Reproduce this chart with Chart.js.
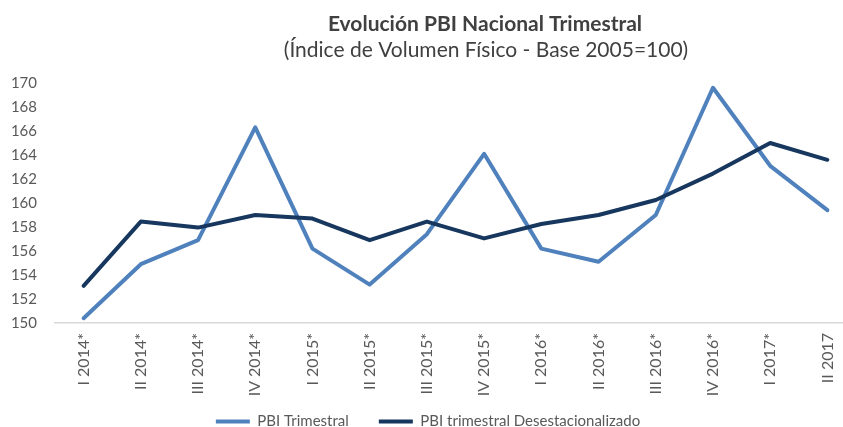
<!DOCTYPE html>
<html>
<head>
<meta charset="utf-8">
<script src="https://cdn.jsdelivr.net/npm/chart.js@4/dist/chart.umd.min.js"></script>
<style>
  html, body { margin: 0; padding: 0; background: #ffffff; overflow: hidden; width: 843px; height: 427px; }
  #wrap { width: 858px; height: 439px; }
</style>
</head>
<body>
<div id="wrap"><canvas id="c" width="858" height="439"></canvas></div>
<script>
const categories = ["I 2014*", "II 2014*", "III 2014*", "IV 2014*", "I 2015*", "II 2015*", "III 2015*", "IV 2015*", "I 2016*", "II 2016*", "III 2016*", "IV 2016*", "I 2017*", "II 2017"];
const pbiTrimestral = [150.4, 154.9, 156.9, 166.3, 156.2, 153.2, 157.4, 164.1, 156.2, 155.1, 159.0, 169.6, 163.1, 159.4];
const pbiDesestacionalizado = [153.1, 158.45, 157.95, 159.0, 158.7, 156.9, 158.45, 157.05, 158.25, 159.0, 160.25, 162.45, 165.0, 163.6];
const yTicks = [150, 152, 154, 156, 158, 160, 162, 164, 166, 168, 170];
const titleText = "Evolución PBI Nacional Trimestral";
const subtitleText = "(Índice de Volumen Físico - Base 2005=100)";

const FONT = "Lato, 'Open Sans', sans-serif";

const titlePlugin = {
  id: 'customTitle',
  afterUpdate(chart) {
    // let rotated category labels extend below the axis box (as in the reference)
    const xs = chart.scales.x;
    if (xs) xs._computeLabelArea = function () { return undefined; };
  },
  afterDraw(chart) {
    const ctx = chart.ctx;
    ctx.save();
    ctx.textAlign = 'center';
    ctx.textBaseline = 'alphabetic';
    ctx.fillStyle = '#404040';
    ctx.font = "bold 21px " + FONT;
    ctx.fillText(titleText, 485, 31);
    ctx.font = "21px " + FONT;
    ctx.fillText(subtitleText, 486, 57);
    ctx.restore();
  }
};

new Chart(document.getElementById('c'), {
  type: 'line',
  data: {
    labels: categories,
    datasets: [
      {
        label: 'PBI Trimestral',
        data: pbiTrimestral,
        borderColor: '#4F81BD',
        backgroundColor: '#4F81BD',
        borderWidth: 4,
        pointRadius: 0,
        borderCapStyle: 'round',
        borderJoinStyle: 'round',
        tension: 0,
        order: 1
      },
      {
        label: 'PBI trimestral Desestacionalizado',
        data: pbiDesestacionalizado,
        borderColor: '#17375E',
        backgroundColor: '#17375E',
        borderWidth: 4,
        pointRadius: 0,
        borderCapStyle: 'round',
        borderJoinStyle: 'round',
        tension: 0,
        order: 0
      }
    ]
  },
  options: {
    responsive: false,
    animation: false,
    layout: { padding: { top: 83, right: 2, left: 0, bottom: 0 } },
    plugins: {
      title: { display: false },
      tooltip: { enabled: false },
      legend: {
        position: 'bottom',
        labels: {
          usePointStyle: true,
          pointStyle: 'line',
          pointStyleWidth: 34,
          boxWidth: 34,
          boxHeight: 14,
          padding: 30,
          color: '#595959',
          font: { family: FONT, size: 15 },
          sort: (a, b) => a.datasetIndex - b.datasetIndex
        }
      }
    },
    scales: {
      x: {
        type: 'category',
        offset: true,
        grid: { display: false, drawTicks: false },
        border: { display: true, color: '#D9D9D9', width: 1.5 },
        ticks: {
          color: '#595959',
          font: { family: FONT, size: 16 },
          minRotation: 90,
          maxRotation: 90,
          padding: 10,
          autoSkip: false
        },
        afterFit(scale) { scale.height = 61; }
      },
      y: {
        min: 150,
        max: 170,
        grid: { display: false, drawTicks: false },
        border: { display: false },
        afterBuildTicks(scale) { scale.ticks = yTicks.map(v => ({ value: v })); },
        ticks: {
          color: '#595959',
          font: { family: FONT, size: 15 },
          padding: 18
        },
        afterFit(scale) { scale.width = 55; }
      }
    }
  },
  plugins: [titlePlugin]
});
</script>
</body>
</html>
